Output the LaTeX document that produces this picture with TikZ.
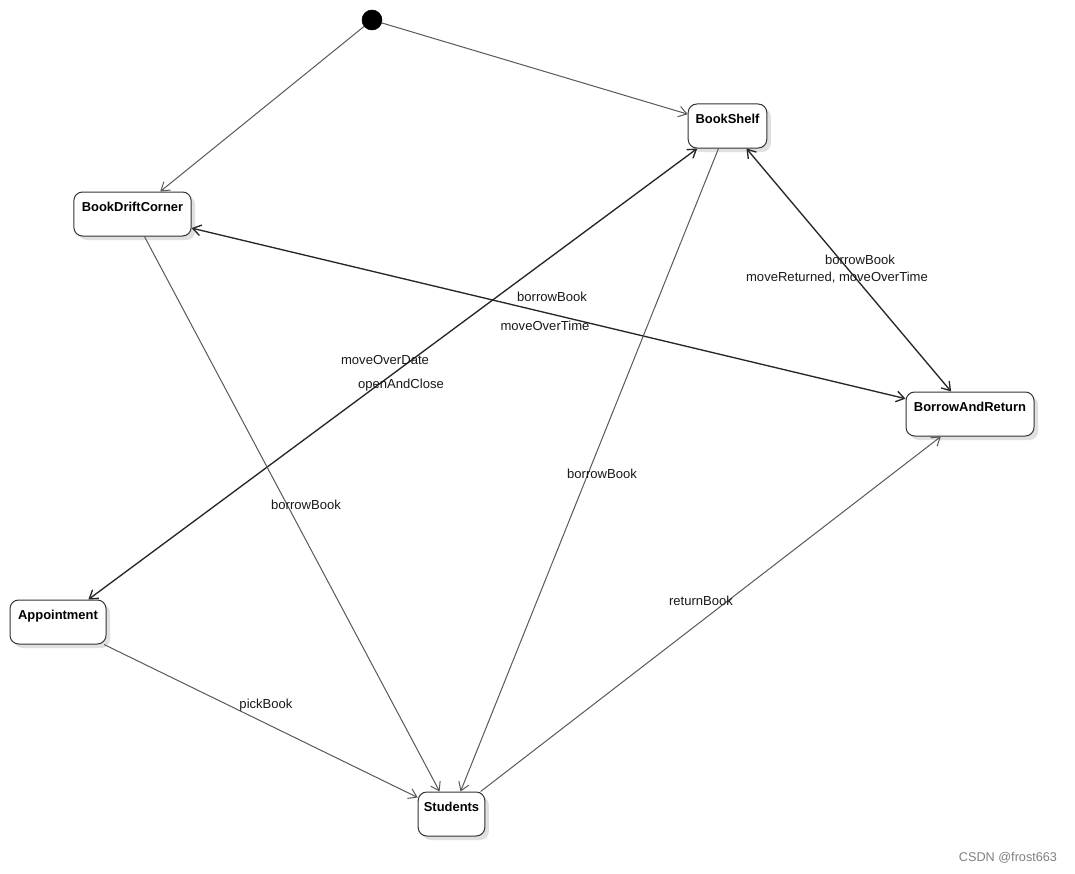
\documentclass[tikz,border=0pt]{standalone}
\usepackage{fontspec}
\setmainfont{Liberation Sans}
\usetikzlibrary{arrows.meta,shadows}
\begin{document}
\begin{tikzpicture}[x=0.75pt,y=-0.75pt,
  state/.style={draw=black!80, line width=0.75pt, fill=white, rounded corners=6.5pt,
    font=\bfseries\fontsize{9.7pt}{11pt}\selectfont, inner xsep=0pt, inner ysep=3pt,
    text height=11.5pt, text depth=15.5pt, minimum height=30pt,
    drop shadow={shadow xshift=3pt, shadow yshift=-3pt, fill=black!12, opacity=1}},
  initst/.style={circle, fill=black, draw=black, minimum size=15pt, inner sep=0pt},
  tr/.style={draw=black!65, line width=0.75pt, -{Straight Barb[length=6pt,width=8pt]}},
  bi/.style={draw=black!85, line width=1pt, {Straight Barb[length=6pt,width=8pt]}-{Straight Barb[length=6pt,width=8pt]}},
  lbl/.style={font=\fontsize{9.8pt}{11pt}\selectfont, inner sep=1pt, text=black!90}
]
\useasboundingbox (0,0) rectangle (1075,874);
\fill[white] (0,0) rectangle (1075,874);

% states
\node[initst] (init) at (372,20) {};
\node[state, minimum width=59pt] (bs) at (727.5,126) {BookShelf};
\node[state, minimum width=88pt] (bdc) at (132.5,214) {BookDriftCorner};
\node[state, minimum width=96pt] (bar) at (970,414) {BorrowAndReturn};
\node[state, minimum width=72pt] (app) at (58,622) {Appointment};
\node[state, minimum width=50pt] (stu) at (451.5,814) {Students};

% transitions
\draw[tr] (init) -- (bdc);
\draw[tr] (init) -- (bs);
\draw[bi] (bdc) -- (bar);
\draw[bi] (bs) -- (bar);
\draw[bi] (bs) -- (app);
\draw[tr] (bs) -- (stu);
\draw[tr] (bdc) -- (stu);
\draw[tr] (app) -- (stu);
\draw[tr] (stu) -- (bar);

% labels
\node[lbl] (l1) at (552,297) {borrowBook};
\node[lbl] (l2) at (545,326) {moveOverTime};
\node[lbl] (l3) at (860,260) {borrowBook};
\node[lbl] (l4) at (837,278) {moveReturned, moveOverTime};
\node[lbl] (l5) at (385,360) {moveOverDate};
\node[lbl] (l6) at (401,385) {openAndClose};
\node[lbl] (l7) at (306,505) {borrowBook};
\node[lbl] (l8) at (602,474) {borrowBook};
\node[lbl] (l9) at (266,705) {pickBook};
\node[lbl] (l10) at (701,601) {returnBook};
\node[font=\fontsize{9.5pt}{11pt}\selectfont, text=black!50, inner sep=1pt] (wm) at (1008,858) {CSDN @frost663};
\end{tikzpicture}
\end{document}
